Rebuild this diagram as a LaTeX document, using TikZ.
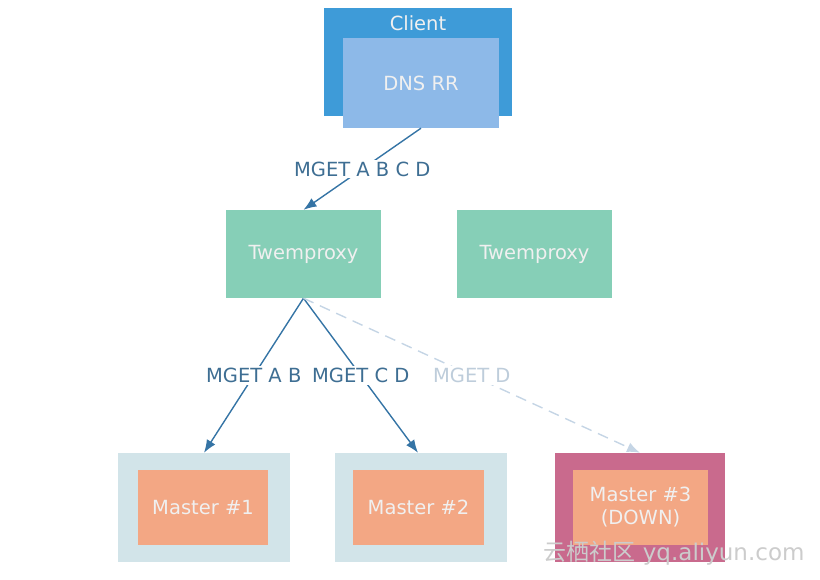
\documentclass[tikz,border=0pt]{standalone}
\usepackage{fontspec}
\setmainfont{DejaVu Sans}
\newfontfamily\cjk{Noto Sans CJK SC}
\usetikzlibrary{arrows.meta, positioning}

\definecolor{clientblue}{HTML}{3E9BD8}
\definecolor{dnsblue}{HTML}{8DB9E8}
\definecolor{proxygreen}{HTML}{86CFB7}
\definecolor{mastergray}{HTML}{D2E4E9}
\definecolor{masterdown}{HTML}{C96A8D}
\definecolor{masterorange}{HTML}{F3A784}
\definecolor{arrowblue}{HTML}{3574A5}
\definecolor{labelblue}{HTML}{3E6E93}
\definecolor{fadeblue}{HTML}{C5D5E5}

\begin{document}
\begin{tikzpicture}[x=1pt, y=-1pt,
  every node/.style={font=\fontsize{19.5}{23}\selectfont, text=white!94!black},
  box/.style={inner sep=0pt, align=center},
  outer/.style={box, fill=mastergray, minimum width=172pt, minimum height=109pt},
  master/.style={box, fill=masterorange, minimum width=130pt, minimum height=75pt},
  proxy/.style={box, fill=proxygreen, minimum width=155pt, minimum height=88pt},
  lbl/.style={fill=white, text=labelblue, inner sep=2pt},
  arr/.style={-{Latex[length=13pt,width=10pt]}, line width=1.4pt, draw=arrowblue}
]
\useasboundingbox (0,0) rectangle (820,579);

%% ---- CLIENT (y=62) ----------------------------------------------
\node[box, fill=clientblue, minimum width=188pt, minimum height=108pt]
  (client) at (418,62) {};
\node[box] (clientlbl) at (418,23) {Client};
\node[box, fill=dnsblue, minimum width=156pt, minimum height=90pt]
  (dns) at (421,83) {DNS RR};

%% ---- TWEMPROXY ROW (y=254) --------------------------------------
\node[proxy] (tw1) at (303.5,254) {Twemproxy};
\node[proxy] (tw2) at (534.5,254) {Twemproxy};

\draw[arr] (dns.south) -- (tw1.north)
  node[lbl, midway] {MGET A B C D};

%% ---- MASTER ROW (y=507) -----------------------------------------
\node[outer] (out1) at (204,507.5) {};
\node[master] (m1) at (203,507.5) {Master \#1};

\node[outer] (out2) at (421,507.5) {};
\node[master, minimum width=131pt] (m2) at (418.5,507.5) {Master \#2};

\node[outer, fill=masterdown, minimum width=170pt] (out3) at (640,507.5) {};
\node[master, minimum width=135pt] (m3) at (640.5,507.5)
  {Master \#3\\(DOWN)};

\draw[arr] (tw1.south) -- (out1.north)
  node[lbl, midway] {MGET A B};
\draw[arr] (tw1.south) -- ([xshift=-3pt]out2.north)
  node[lbl, midway] {MGET C D};
\draw[arr, draw=fadeblue, dash pattern=on 11pt off 7pt] (tw1.south) -- (out3.north)
  node[lbl, midway, text=fadeblue!90!gray] {MGET D};

%% watermark
\node[text=gray!40, anchor=east, font=\fontsize{23}{25}\selectfont]
  (mark) at (808,553) {{\cjk 云栖社区} yq.aliyun.com};

\end{tikzpicture}
\end{document}
